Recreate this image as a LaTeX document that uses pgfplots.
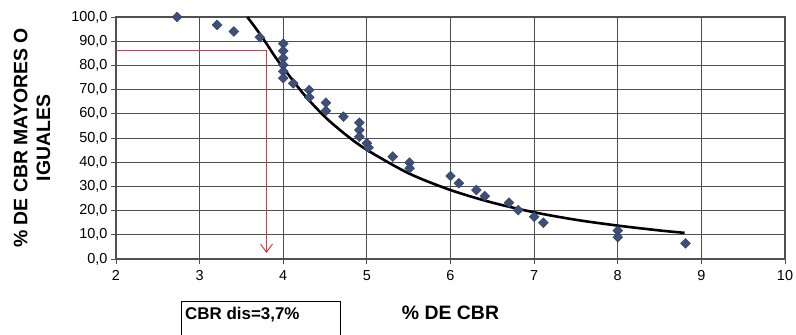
\documentclass[border=0pt]{standalone}
\usepackage{pgfplots}
\pgfplotsset{compat=1.18}
\usepackage{fontspec}
\setmainfont{Liberation Sans}
\usetikzlibrary{arrows.meta}
\definecolor{pts}{RGB}{60,80,122}
\definecolor{redl}{RGB}{210,60,75}
\definecolor{gridc}{RGB}{80,80,80}
\begin{document}
\begin{tikzpicture}[x=1bp,y=1bp]
\path[use as bounding box] (-116,-75) rectangle (680,259);
\begin{axis}[
  at={(0,0)}, anchor=south west,
  scale only axis, width=669bp, height=242bp,
  xmin=2, xmax=10, ymin=0, ymax=100,
  xtick={2,3,...,10}, ytick={0,10,...,100},
  grid=major,
  major grid style={gridc, line width=0.9bp},
  axis line style={gridc, line width=1.1bp},
  tick style={gridc, line width=0.9bp},
  tick align=outside, major tick length=5bp,
  xtick pos=bottom, ytick pos=left,
  /pgf/number format/assume math mode=true,
  ticklabel style={font=\fontsize{14.5}{16}\selectfont},
  yticklabel style={/pgf/number format/.cd, fixed, fixed zerofill, precision=1, use comma},
  xticklabel style={yshift=-3bp, /pgf/number format/.cd, fixed, precision=0},
  xlabel={\bfseries \% DE CBR},
  xlabel style={font=\fontsize{19.5}{22}\selectfont, at={(axis description cs:0.5,0)}, anchor=center, yshift=-54bp},
  ylabel={\bfseries\begin{tabular}{c}\% DE CBR MAYORES O\\[-1bp] IGUALES\end{tabular}},
  ylabel style={font=\fontsize{19.5}{24}\selectfont, at={(axis description cs:0,0.5)}, anchor=center, rotate=0, yshift=82bp, xshift=0pt},
  clip=false,
]
% red design lines
\addplot[redl, line width=1bp] coordinates {(2,86) (3.8,86) (3.8,3.5)};
\addplot[redl, line width=1bp, -{Straight Barb[length=8bp,width=12bp]}] coordinates {(3.8,10) (3.8,2.5)};
% trend curve
\addplot[black, line width=2.6bp, smooth] coordinates {
(3.57,100) (3.7,94) (3.8,89) (3.9,83.7) (4.0,79) (4.25,67.9) (4.5,58.7) (4.75,51.3)
(5.0,45.1) (5.5,35.4) (6.0,28.5) (6.5,23.3) (7.0,19.3) (7.5,16.2) (8.0,13.8) (8.5,11.8) (8.8,10.8)};
% data points
\addplot[only marks, mark=square*, mark size=3.5bp, mark options={rotate=45, fill=pts, draw=pts!80!black, line width=0.4bp}] coordinates {
(2.73,100) (3.21,96.7) (3.41,94) (3.72,91.6)
(4.0,89) (4.0,86) (4.0,83) (4.0,80.2) (4.0,77.5) (4.0,74.7)
(4.12,72.6) (4.31,69.8) (4.31,66.8) (4.51,64.6) (4.51,61.3) (4.72,58.8)
(4.91,56.3) (4.91,53.3) (4.91,50.5) (5.0,47.8) (5.02,46)
(5.31,42.3) (5.51,39.8) (5.51,37.5)
(6.0,34.3) (6.1,31.3) (6.31,28.5) (6.41,26)
(6.7,23.3) (6.81,20.2) (7.0,17.5) (7.11,15)
(8.0,11.7) (8.0,9) (8.81,6.5)};
\end{axis}
\draw[black, line width=0.9bp] (65.7,-80) -- (65.7,-42.7) -- (224,-42.7) -- (224,-80);
\node[anchor=north west, inner sep=0pt, font=\fontsize{17}{19}\selectfont\bfseries] at (69,-48.5) {CBR dis=3,7\%};
\end{tikzpicture}
\end{document}
